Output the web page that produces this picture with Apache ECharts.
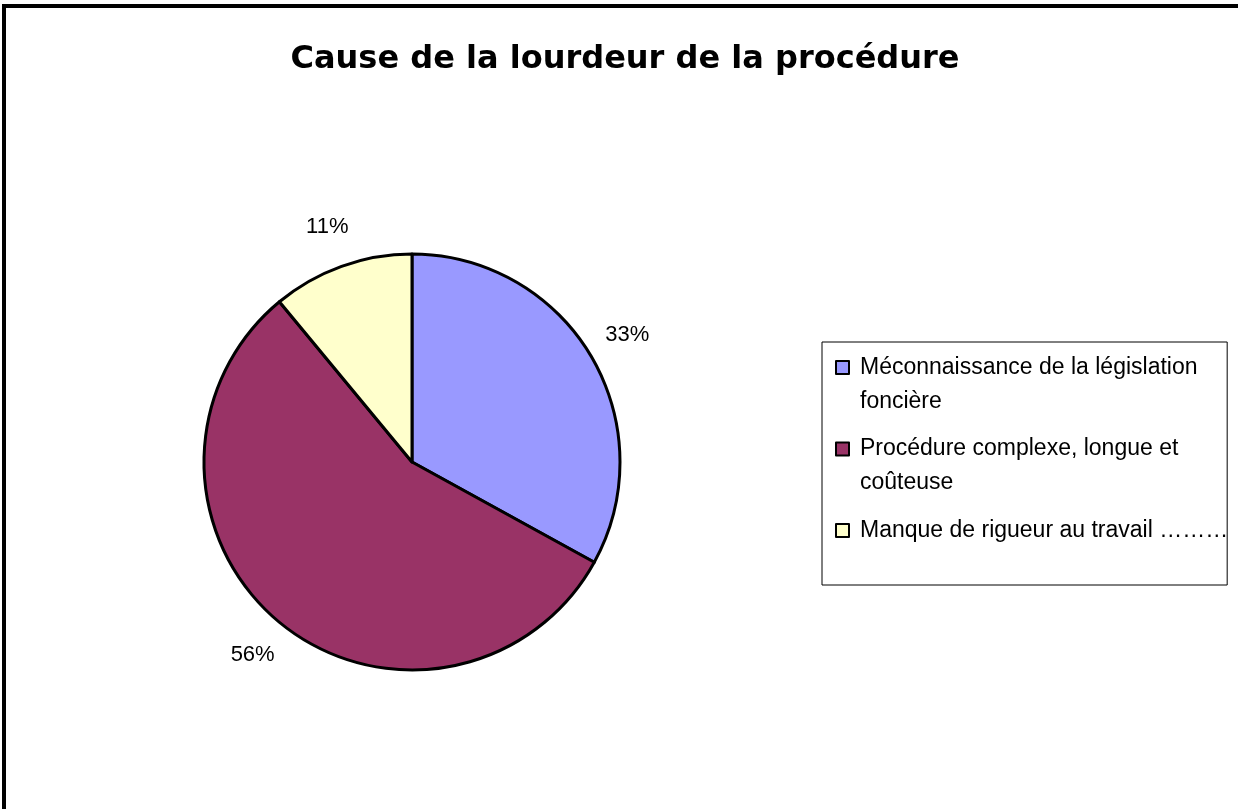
<!DOCTYPE html>
<html>
<head>
<meta charset="utf-8">
<script src="https://cdn.jsdelivr.net/npm/echarts@6/dist/echarts.min.js"></script>
<style>
  html, body { margin: 0; padding: 0; background: #fff; overflow: hidden; }
  #chart { position: absolute; left: 0; top: 0; width: 1238px; height: 809px; }
  #frame { position: absolute; left: 2px; top: 4px; width: 1400px; height: 1000px;
           border-top: 4px solid #000; border-left: 4px solid #000; pointer-events: none; z-index: 2; }
</style>
</head>
<body>
<div id="chart"></div>
<div id="frame"></div>
<script>
const titleText = 'Cause de la lourdeur de la procédure';
const categories = [
  'Méconnaissance de la législation foncière',
  'Procédure complexe, longue et coûteuse',
  'Manque de rigueur au travail ………'
];
const values = [33, 56, 11];
const colors = ['#9999FF', '#993366', '#FFFFCC'];
// legend entries whose text wraps onto a second line
const wrappedEntries = [true, true, false];

const textFont = "'Liberation Sans', Arial, sans-serif";

const chart = echarts.init(document.getElementById('chart'), null, { renderer: 'canvas' });

const legendData = categories.map(function (name, i) {
  return {
    name: name,
    textStyle: wrappedEntries[i]
      ? { padding: [0, 0, 0, 6], overflow: 'break' }
      : { padding: [34, 0, 34, 6], overflow: 'none' }
  };
});

chart.setOption({
  backgroundColor: 'transparent',
  animation: false,
  title: {
    text: titleText,
    left: 620,
    top: 39,
    textAlign: 'center',
    textStyle: {
      fontFamily: "'DejaVu Sans', sans-serif",
      fontWeight: 'bold',
      fontSize: 32,
      color: '#000'
    }
  },
  legend: {
    orient: 'vertical',
    left: 822,
    top: 342,
    padding: [-25.5, -1, 3.5, 13],
    itemGap: -20.5,
    itemWidth: 13,
    itemHeight: 13,
    icon: 'rect',
    itemStyle: { borderColor: '#000', borderWidth: 2 },
    borderColor: '#000',
    borderWidth: 1,
    backgroundColor: '#fff',
    selectedMode: false,
    formatter: function (name) {
      const i = categories.indexOf(name);
      // a leading blank line keeps the first text line level with the marker
      return wrappedEntries[i] ? '\n' + name : name;
    },
    textStyle: {
      fontFamily: textFont,
      fontSize: 23,
      lineHeight: 34,
      color: '#000',
      width: 366,
      overflow: 'break',
      backgroundColor: 'rgba(0,0,0,0)'
    },
    data: legendData
  },
  series: [{
    type: 'pie',
    center: [412, 462],
    radius: 208,
    startAngle: 90,
    clockwise: true,
    avoidLabelOverlap: false,
    silent: true,
    itemStyle: { borderColor: '#000', borderWidth: 3 },
    label: {
      show: true,
      position: 'outside',
      formatter: '{c}%',
      fontFamily: textFont,
      fontSize: 22,
      color: '#000',
      distanceToLabelLine: 0
    },
    labelLine: { show: false, length: 42, length2: 0 },
    labelLayout: { align: 'center', verticalAlign: 'middle' },
    data: categories.map(function (name, i) {
      return { name: name, value: values[i], itemStyle: { color: colors[i] } };
    })
  }]
});
</script>
</body>
</html>
